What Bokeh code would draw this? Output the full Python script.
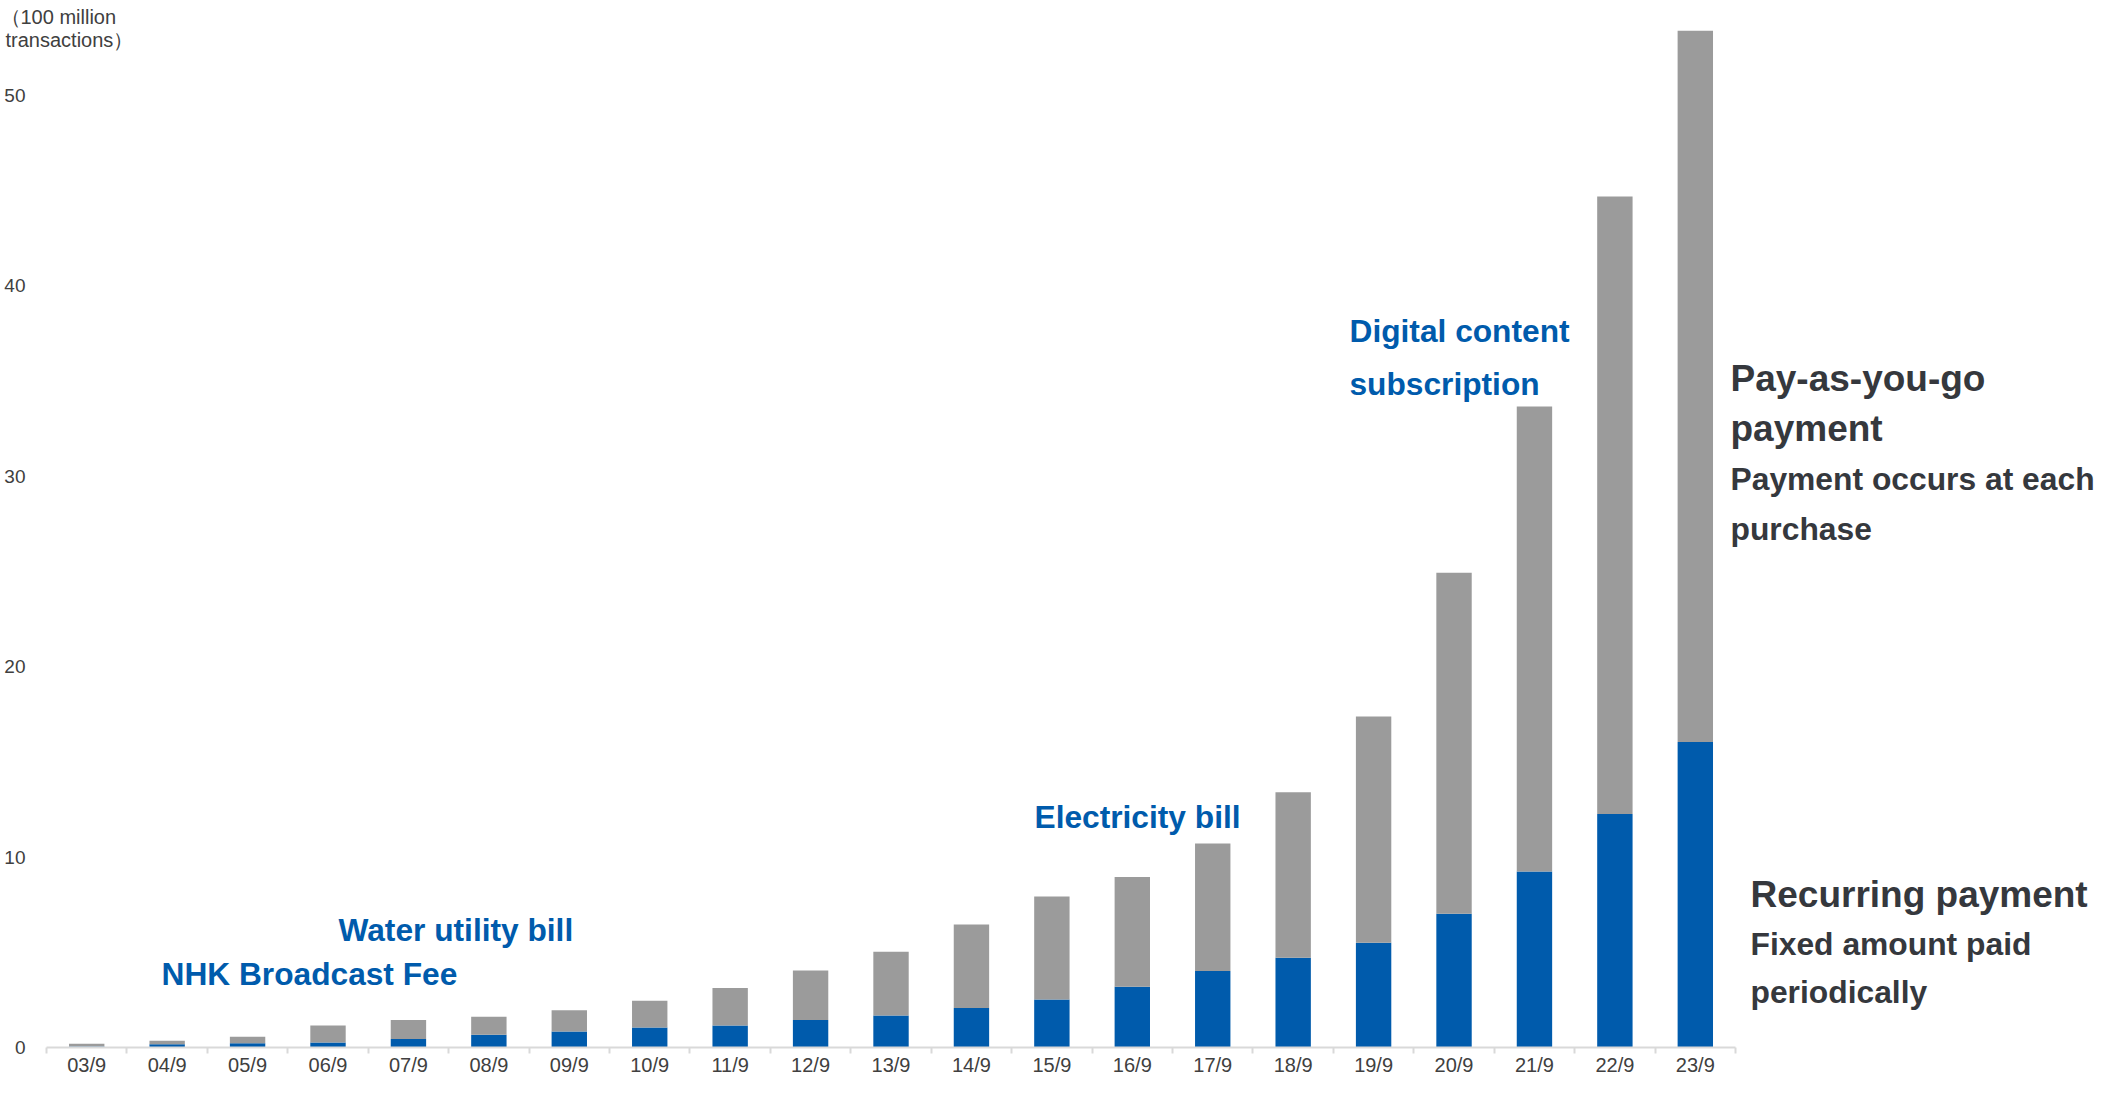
from bokeh.plotting import figure
from bokeh.models import Range1d, FixedTicker, Label, ColumnDataSource
from bokeh.embed import file_html
from bokeh.resources import INLINE

# ---- data (100 million transactions) ----
categories = ["03/9", "04/9", "05/9", "06/9", "07/9", "08/9", "09/9", "10/9", "11/9", "12/9",
              "13/9", "14/9", "15/9", "16/9", "17/9", "18/9", "19/9", "20/9", "21/9", "22/9", "23/9"]
recurring = [0.05, 0.17, 0.22, 0.26, 0.44, 0.67, 0.84, 1.05, 1.16, 1.45,
             1.68, 2.07, 2.52, 3.19, 4.02, 4.72, 5.50, 7.03, 9.24, 12.26, 16.04]
total = [0.20, 0.35, 0.57, 1.15, 1.45, 1.61, 1.96, 2.45, 3.12, 4.04,
         5.03, 6.46, 7.93, 8.95, 10.72, 13.41, 17.38, 24.93, 33.67, 44.70, 53.40]
y_ticks = [0, 10, 20, 30, 40, 50]

BLUE = "#005bac"
GRAY = "#9b9b9b"
DARK = "#35383d"
TICK = "#404040"
FONT = "Liberation Sans"

W, H = 2100, 1079
# page-pixel -> data mapping of the reference
X0, DX, Y0, DY = 54.0, 80.43, 1055.0, 19.04
def dx(px):
    return (px - X0) / DX - 0.5
def dy(py):
    return (Y0 - py) / DY

xs = list(range(len(categories)))
src = ColumnDataSource(dict(x=xs, rec=recurring, tot=total))

p = figure(width=W, height=H, output_backend="svg", toolbar_location=None,
           x_range=Range1d(dx(8), dx(8 + W)), y_range=Range1d(dy(8 + H), dy(8)),
           min_border=0)
p.outline_line_color = None
p.xgrid.visible = False
p.ygrid.visible = False
p.background_fill_color = "white"

p.vbar(x="x", top="rec", bottom=0, width=0.44, source=src, fill_color=BLUE, line_color=None)
p.vbar(x="x", top="tot", bottom="rec", width=0.44, source=src, fill_color=GRAY, line_color=None)

# x axis (drawn at y = 0, spanning only the categories)
xa = p.xaxis[0]
xa.fixed_location = 0
xa.bounds = (-0.5, len(categories) - 0.5)
xa.ticker = FixedTicker(ticks=xs, minor_ticks=[i - 0.5 for i in range(len(categories) + 1)])
xa.major_label_overrides = {i: c for i, c in enumerate(categories)}
xa.axis_line_color = "#d9d9d9"
xa.axis_line_width = 2
xa.major_tick_line_color = None
xa.major_tick_out = 0
xa.major_tick_in = 0
xa.minor_tick_line_color = "#d9d9d9"
xa.minor_tick_line_width = 2
xa.minor_tick_out = 6
xa.minor_tick_in = 0
xa.major_label_standoff = 0
xa.major_label_text_font = FONT
xa.major_label_text_font_size = "20px"
xa.major_label_text_color = TICK

# y axis (at the left edge of the first category)
ya = p.yaxis[0]
ya.fixed_location = -0.5
ya.ticker = FixedTicker(ticks=y_ticks)
ya.axis_line_color = None
ya.major_tick_line_color = None
ya.minor_tick_line_color = None
ya.major_tick_out = 0
ya.major_tick_in = 0
ya.major_label_standoff = 21
ya.major_label_text_font = FONT
ya.major_label_text_font_size = "19px"
ya.major_label_text_color = TICK

def lab(text, px, py, size, color, bold=True):
    p.add_layout(Label(x=dx(px), y=dy(py), text=text, text_font=FONT,
                       text_font_size=size, text_color=color,
                       text_font_style="bold" if bold else "normal",
                       text_align="left", text_baseline="alphabetic"))

# axis unit
lab("（100 million", 8, 24, "20px", TICK, bold=False)
lab("transactions）", 13, 47, "20px", TICK, bold=False)

# blue annotations
lab("NHK Broadcast Fee", 169, 981, "31.7px", BLUE)
lab("Water utility bill", 346, 937, "31.7px", BLUE)
lab("Electricity bill", 1042, 824, "31.7px", BLUE)
lab("Digital content", 1357, 338, "31.7px", BLUE)
lab("subscription", 1357, 391, "31.7px", BLUE)

# series descriptions
lab("Pay-as-you-go", 1738, 386, "37px", DARK)
lab("payment", 1738, 436, "37px", DARK)
lab("Payment occurs at each", 1738, 486, "31.8px", DARK)
lab("purchase", 1738, 536, "31.8px", DARK)
lab("Recurring payment", 1758, 902, "37px", DARK)
lab("Fixed amount paid", 1758, 951, "31.8px", DARK)
lab("periodically", 1758, 999, "31.8px", DARK)

open("out.html", "w").write(file_html(p, INLINE))
